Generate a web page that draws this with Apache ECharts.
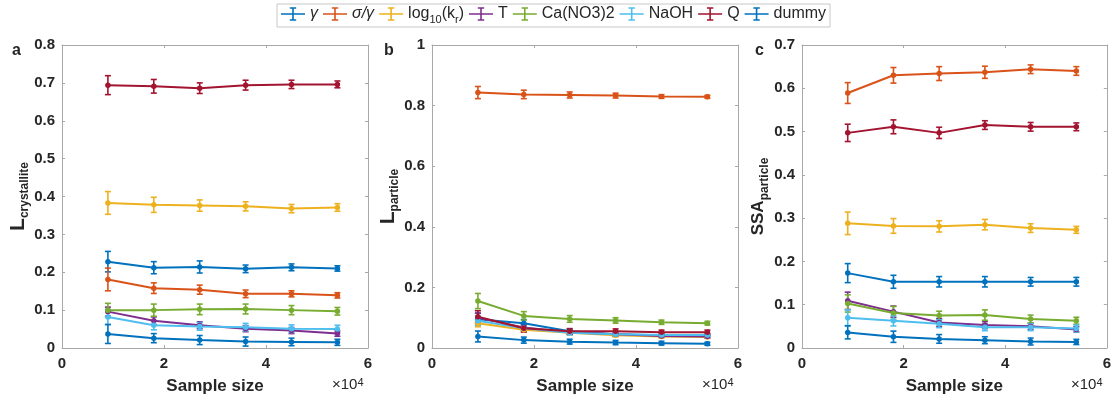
<!DOCTYPE html>
<html>
<head>
<meta charset="utf-8">
<script src="https://cdn.jsdelivr.net/npm/echarts@6/dist/echarts.min.js"></script>
<style>
html,body{margin:0;padding:0;background:#fff;}
#chart{width:1114px;height:400px;}
</style>
</head>
<body>
<div id="chart"></div>
<script>
// ---------- DATA ----------
const sampleSizes = [9000, 18000, 27000, 36000, 45000, 54000];
const seriesNames = ['γ', 'σ/γ', 'log10(kr)', 'T', 'Ca(NO3)2', 'NaOH', 'Q', 'dummy'];
const xTicks = [0, 20000, 40000, 60000];

// Panel a: L_crystallite
const aGamma = [0.228, 0.212, 0.214, 0.209, 0.213, 0.210];
const aGammaErr = [0.027, 0.016, 0.016, 0.010, 0.009, 0.007];
const aSigma = [0.181, 0.158, 0.154, 0.143, 0.143, 0.139];
const aSigmaErr = [0.030, 0.014, 0.012, 0.010, 0.008, 0.007];
const aLogk = [0.383, 0.378, 0.376, 0.374, 0.368, 0.371];
const aLogkErr = [0.030, 0.020, 0.015, 0.012, 0.011, 0.010];
const aT = [0.096, 0.072, 0.060, 0.051, 0.046, 0.038];
const aTErr = [0.012, 0.010, 0.009, 0.008, 0.008, 0.007];
const aCa = [0.100, 0.100, 0.102, 0.103, 0.100, 0.097];
const aCaErr = [0.018, 0.016, 0.014, 0.013, 0.012, 0.010];
const aNaOH = [0.082, 0.060, 0.057, 0.055, 0.051, 0.050];
const aNaOHErr = [0.020, 0.012, 0.010, 0.010, 0.010, 0.010];
const aQ = [0.694, 0.691, 0.686, 0.694, 0.696, 0.696];
const aQErr = [0.025, 0.018, 0.014, 0.013, 0.011, 0.009];
const aDummy = [0.037, 0.026, 0.021, 0.017, 0.016, 0.015];
const aDummyErr = [0.025, 0.012, 0.012, 0.012, 0.010, 0.008];

// Panel b: L_particle
const bGamma = [0.095, 0.082, 0.055, 0.045, 0.042, 0.042];
const bGammaErr = [0.020, 0.012, 0.008, 0.006, 0.005, 0.005];
const bSigma = [0.843, 0.837, 0.835, 0.833, 0.830, 0.829];
const bSigmaErr = [0.020, 0.014, 0.010, 0.008, 0.006, 0.005];
const bLogk = [0.082, 0.060, 0.050, 0.042, 0.038, 0.036];
const bLogkErr = [0.012, 0.008, 0.006, 0.005, 0.005, 0.004];
const bT = [0.100, 0.068, 0.052, 0.045, 0.040, 0.038];
const bTErr = [0.015, 0.010, 0.007, 0.006, 0.005, 0.005];
const bCa = [0.155, 0.106, 0.096, 0.091, 0.085, 0.082];
const bCaErr = [0.025, 0.014, 0.011, 0.009, 0.007, 0.006];
const bNaOH = [0.090, 0.065, 0.050, 0.045, 0.043, 0.043];
const bNaOHErr = [0.015, 0.010, 0.007, 0.006, 0.005, 0.005];
const bQ = [0.103, 0.065, 0.055, 0.055, 0.052, 0.052];
const bQErr = [0.020, 0.012, 0.009, 0.008, 0.007, 0.007];
const bDummy = [0.038, 0.026, 0.021, 0.018, 0.016, 0.014];
const bDummyErr = [0.018, 0.010, 0.008, 0.007, 0.006, 0.005];

// Panel c: SSA_particle
const cGamma = [0.173, 0.153, 0.153, 0.153, 0.153, 0.153];
const cGammaErr = [0.022, 0.015, 0.012, 0.012, 0.010, 0.010];
const cSigma = [0.589, 0.630, 0.634, 0.637, 0.644, 0.640];
const cSigmaErr = [0.024, 0.018, 0.016, 0.014, 0.010, 0.010];
const cLogk = [0.288, 0.282, 0.281, 0.285, 0.277, 0.273];
const cLogkErr = [0.026, 0.017, 0.013, 0.012, 0.010, 0.008];
const cT = [0.109, 0.084, 0.059, 0.053, 0.050, 0.043];
const cTErr = [0.020, 0.013, 0.009, 0.008, 0.007, 0.006];
const cCa = [0.103, 0.081, 0.075, 0.076, 0.067, 0.063];
const cCaErr = [0.020, 0.015, 0.010, 0.012, 0.009, 0.008];
const cNaOH = [0.070, 0.063, 0.056, 0.048, 0.048, 0.045];
const cNaOHErr = [0.018, 0.012, 0.009, 0.008, 0.008, 0.008];
const cQ = [0.497, 0.511, 0.497, 0.515, 0.511, 0.511];
const cQErr = [0.020, 0.016, 0.013, 0.010, 0.010, 0.009];
const cDummy = [0.036, 0.026, 0.021, 0.018, 0.015, 0.014];
const cDummyErr = [0.015, 0.013, 0.010, 0.008, 0.008, 0.006];

const panelValues = [
  [aGamma, aSigma, aLogk, aT, aCa, aNaOH, aQ, aDummy],
  [bGamma, bSigma, bLogk, bT, bCa, bNaOH, bQ, bDummy],
  [cGamma, cSigma, cLogk, cT, cCa, cNaOH, cQ, cDummy]
];
const panelErrors = [
  [aGammaErr, aSigmaErr, aLogkErr, aTErr, aCaErr, aNaOHErr, aQErr, aDummyErr],
  [bGammaErr, bSigmaErr, bLogkErr, bTErr, bCaErr, bNaOHErr, bQErr, bDummyErr],
  [cGammaErr, cSigmaErr, cLogkErr, cTErr, cCaErr, cNaOHErr, cQErr, cDummyErr]
];
const yMax = [0.8, 1, 0.7];
const yInterval = [0.1, 0.2, 0.1];
const panelLetters = ['a', 'b', 'c'];
const yNames = ['{m|L}{s|crystallite}', '{m|L}{s|particle}', '{m2|SSA}{s|particle}'];

// ---------- STYLE ----------
const colors = ['#0072BD', '#D95319', '#EDB120', '#7E2F8E', '#77AC30', '#4DBEEE', '#A2142F', '#0072BD'];
const FONT = 'Liberation Sans, Arial, Helvetica, sans-serif';
const TXT = '#262626';
const AXC = '#a8a8a8';
const grids = [
  {left: 62, width: 306, top: 45, height: 303},
  {left: 432, width: 306, top: 45, height: 303},
  {left: 802, width: 305, top: 45, height: 303}
];
const nameGaps = [30, 30, 27];

const chart = echarts.init(document.getElementById('chart'), null, {renderer: 'canvas'});

const xAxes = [], yAxes = [], series = [];
grids.forEach((g, p) => {
  xAxes.push({
    type: 'value', gridIndex: p, min: 0, max: 60000, interval: 20000, position: 'bottom',
    axisLine: {show: true, onZero: false, lineStyle: {color: AXC, width: 1}},
    axisTick: {show: true, inside: true, length: 3, lineStyle: {color: AXC}},
    splitLine: {show: false},
    axisLabel: {color: TXT, fontSize: 15, fontWeight: 'bold', fontFamily: FONT, margin: 8,
      formatter: v => String(v / 10000)},
    name: 'Sample size', nameLocation: 'middle', nameGap: 30,
    nameTextStyle: {color: TXT, fontSize: 17, fontWeight: 'bold', fontFamily: FONT}
  });
  xAxes.push({
    type: 'value', gridIndex: p, min: 0, max: 60000, interval: 20000, position: 'top',
    axisLine: {show: true, onZero: false, lineStyle: {color: AXC, width: 1}},
    axisTick: {show: true, inside: true, length: 3, lineStyle: {color: AXC}},
    splitLine: {show: false}, axisLabel: {show: false}
  });
  yAxes.push({
    type: 'value', gridIndex: p, min: 0, max: yMax[p], interval: yInterval[p], position: 'left',
    axisLine: {show: true, onZero: false, lineStyle: {color: AXC, width: 1}},
    axisTick: {show: true, inside: true, length: 3, lineStyle: {color: AXC}},
    splitLine: {show: false},
    axisLabel: {color: TXT, fontSize: 15, fontWeight: 'bold', fontFamily: FONT, margin: 7},
    name: yNames[p], nameLocation: 'middle', nameRotate: 90, nameGap: nameGaps[p],
    nameTextStyle: {
      color: TXT, fontFamily: FONT,
      rich: {
        m: {fontSize: 21, fontWeight: 'bold', color: TXT, fontFamily: FONT, lineHeight: 24, verticalAlign: 'middle'},
        m2: {fontSize: 17, fontWeight: 'bold', color: TXT, fontFamily: FONT, lineHeight: 24, verticalAlign: 'middle'},
        s: {fontSize: 12, fontWeight: 'bold', color: TXT, fontFamily: FONT, lineHeight: 12, verticalAlign: 'bottom'}
      }
    }
  });
  yAxes.push({
    type: 'value', gridIndex: p, min: 0, max: yMax[p], interval: yInterval[p], position: 'right',
    axisLine: {show: true, onZero: false, lineStyle: {color: AXC, width: 1}},
    axisTick: {show: true, inside: true, length: 3, lineStyle: {color: AXC}},
    splitLine: {show: false}, axisLabel: {show: false}
  });

  seriesNames.forEach((nm, i) => {
    const vals = panelValues[p][i];
    const errs = panelErrors[p][i];
    const col = colors[i];
    series.push({
      type: 'line', name: nm, xAxisIndex: 2 * p, yAxisIndex: 2 * p,
      data: sampleSizes.map((x, k) => [x, vals[k]]),
      symbol: 'circle', symbolSize: 5.5, showSymbol: true,
      lineStyle: {color: col, width: 2}, itemStyle: {color: col},
      animation: false, silent: true
    });
    series.push({
      type: 'custom', name: nm, xAxisIndex: 2 * p, yAxisIndex: 2 * p,
      data: sampleSizes.map((x, k) => [x, vals[k], errs[k]]),
      encode: {x: 0, y: 1},
      renderItem: (params, api) => {
        const x = api.value(0), y = api.value(1), e = api.value(2);
        const t = api.coord([x, y + e]);
        const b = api.coord([x, y - e]);
        const hw = 3;
        const st = {stroke: col, lineWidth: 1.6, fill: null};
        return {
          type: 'group', children: [
            {type: 'line', shape: {x1: t[0], y1: t[1], x2: b[0], y2: b[1]}, style: st},
            {type: 'line', shape: {x1: t[0] - hw, y1: t[1], x2: t[0] + hw, y2: t[1]}, style: st},
            {type: 'line', shape: {x1: b[0] - hw, y1: b[1], x2: b[0] + hw, y2: b[1]}, style: st}
          ]
        };
      },
      itemStyle: {color: col},
      animation: false, silent: true
    });
  });
});

const errIcon = 'path://M0,9H30V11H0Z M14,2H16V18H14Z M11,1.5H19V3.5H11Z M11,16.5H19V18.5H11Z';

const graphics = [];
grids.forEach((g, p) => {
  graphics.push({
    type: 'text', left: [12, 384, 755][p], top: 43,
    style: {text: panelLetters[p], fill: TXT, font: 'bold 16px ' + FONT}
  });
  graphics.push({
    type: 'text', left: g.left + g.width - 36, top: 377,
    style: {
      text: '×10{s|4}', fill: TXT, font: '15px ' + FONT,
      rich: {s: {fontSize: 11, fontFamily: FONT, fill: TXT, verticalAlign: 'top', lineHeight: 11}}
    }
  });
});

chart.setOption({
  backgroundColor: '#fff',
  animation: false,
  color: colors,
  grid: grids,
  xAxis: xAxes,
  yAxis: yAxes,
  legend: {
    data: seriesNames.map(n => ({name: n, icon: errIcon})),
    left: 277, top: 4,
    itemWidth: 24, itemHeight: 14, itemGap: 5,
    padding: [2, 4, 2, 4],
    borderColor: '#c8c8c8', borderWidth: 1,
    textStyle: {
      color: TXT, fontSize: 16, fontFamily: FONT,
      rich: {
        n: {fontSize: 16, fontFamily: FONT, color: TXT, lineHeight: 22, verticalAlign: 'middle'},
        i: {fontSize: 16, fontFamily: FONT, color: TXT, fontStyle: 'italic', lineHeight: 22, verticalAlign: 'middle'},
        sub: {fontSize: 11, fontFamily: FONT, color: TXT, lineHeight: 11, verticalAlign: 'bottom'}
      }
    },
    formatter: name => {
      if (name === 'log10(kr)') return '{n|log}{sub|10}{n|(k}{sub|r}{n|)}';
      if (name === 'γ' || name === 'σ/γ') return '{i|' + name + '}';
      return '{n|' + name + '}';
    },
    selectedMode: false
  },
  graphic: graphics,
  series: series
});
</script>
</body>
</html>
